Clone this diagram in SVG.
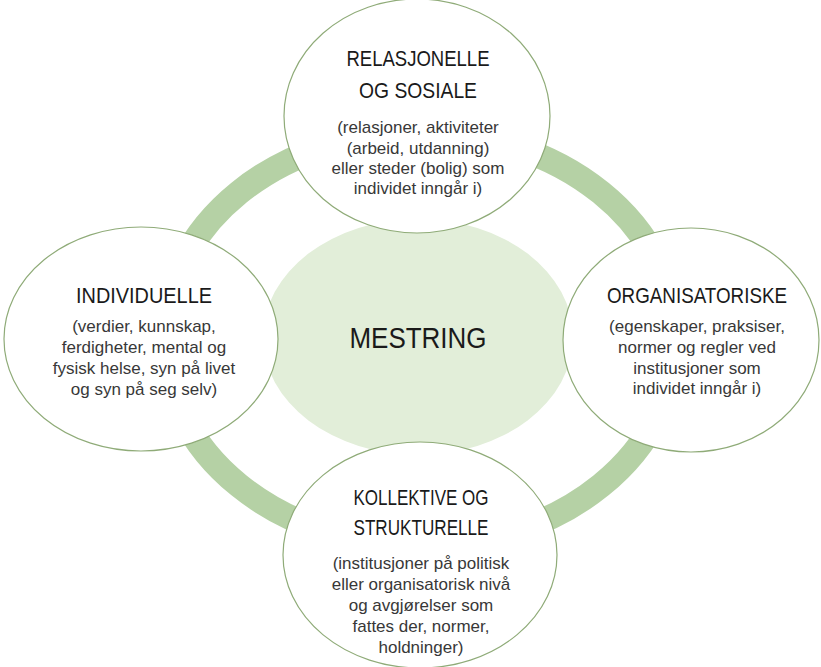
<svg xmlns="http://www.w3.org/2000/svg" width="821" height="667" viewBox="0 0 821 667">
<style>
.node{fill:#ffffff;stroke:#8fab78;stroke-width:1.2}
.t{font-family:"Liberation Sans",Arial,sans-serif;font-size:22px;fill:#1a1a1a;text-anchor:middle}
.b{font-family:"Liberation Sans",Arial,sans-serif;font-size:17px;fill:#383838;text-anchor:middle}
</style>
<rect width="821" height="667" fill="#ffffff"/>
<g id="connectors">
<ellipse cx="420" cy="339" rx="256" ry="207" fill="none" stroke="#b5d1a5" stroke-width="25"/>
</g>
<g id="center">
<ellipse cx="418" cy="337" rx="155" ry="118" fill="#e2eed9"/>
<text x="418" y="348" font-family="Liberation Sans, Arial, sans-serif" font-size="29" fill="#1a1a1a" text-anchor="middle" textLength="137" lengthAdjust="spacingAndGlyphs">MESTRING</text>
</g>
<g id="top">
<ellipse class="node" cx="417" cy="116" rx="133" ry="117"/>
<text class="t" x="418" y="66" textLength="143" lengthAdjust="spacingAndGlyphs">RELASJONELLE</text>
<text class="t" x="418" y="98" textLength="118" lengthAdjust="spacingAndGlyphs">OG SOSIALE</text>
<text class="b" x="418" y="133">(relasjoner, aktiviteter</text>
<text class="b" x="418" y="154">(arbeid, utdanning)</text>
<text class="b" x="418" y="174">eller steder (bolig) som</text>
<text class="b" x="418" y="194">individet inngår i)</text>
</g>
<g id="left">
<ellipse class="node" cx="141" cy="339" rx="137" ry="112"/>
<text class="t" x="144" y="303" textLength="136" lengthAdjust="spacingAndGlyphs">INDIVIDUELLE</text>
<text class="b" x="144" y="332">(verdier, kunnskap,</text>
<text class="b" x="144" y="353">ferdigheter, mental og</text>
<text class="b" x="144" y="374">fysisk helse, syn på livet</text>
<text class="b" x="144" y="395">og syn på seg selv)</text>
</g>
<g id="right">
<ellipse class="node" cx="691" cy="340" rx="128" ry="112"/>
<text class="t" x="697" y="303" textLength="180" lengthAdjust="spacingAndGlyphs">ORGANISATORISKE</text>
<text class="b" x="697" y="332">(egenskaper, praksiser,</text>
<text class="b" x="697" y="353">normer og regler ved</text>
<text class="b" x="697" y="374">institusjoner som</text>
<text class="b" x="697" y="394">individet inngår i)</text>
</g>
<g id="bottom">
<ellipse class="node" cx="420" cy="555" rx="137" ry="113"/>
<text class="t" x="421" y="505" textLength="135" lengthAdjust="spacingAndGlyphs">KOLLEKTIVE OG</text>
<text class="t" x="421" y="535" textLength="135" lengthAdjust="spacingAndGlyphs">STRUKTURELLE</text>
<text class="b" x="421" y="569">(institusjoner på politisk</text>
<text class="b" x="421" y="590">eller organisatorisk nivå</text>
<text class="b" x="421" y="611">og avgjørelser som</text>
<text class="b" x="421" y="632">fattes der, normer,</text>
<text class="b" x="421" y="653">holdninger)</text>
</g>
</svg>
